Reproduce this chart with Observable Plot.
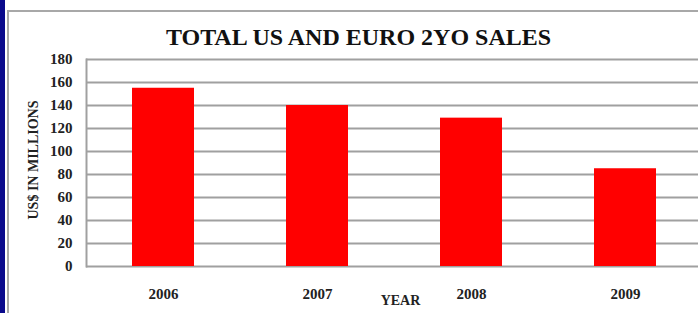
<!DOCTYPE html>
<html>
<head>
<meta charset="utf-8">
<script src="https://cdn.jsdelivr.net/npm/d3@7"></script>
<script src="https://cdn.jsdelivr.net/npm/@observablehq/plot@0.6"></script>
<style>
  html, body { margin: 0; padding: 0; background: #fff; overflow: hidden; }
  #wrap { position: relative; width: 698px; height: 313px; overflow: hidden; background: #fff; }
  #navy { position: absolute; left: 0; top: 0; width: 5px; height: 313px; background: #0a0a8c; }
  #frame { position: absolute; left: 7px; top: 10px; width: 700px; height: 320px; border-top: 2px solid #a8a8a8; border-left: 2px solid #a8a8a8; }
  #chart { position: absolute; left: 0; top: 0; }
  #chart svg { background: transparent !important; overflow: hidden; }
</style>
</head>
<body>
<div id="wrap">
  <div id="navy"></div>
  <div id="frame"></div>
  <div id="chart"></div>
</div>
<script>
const years = ["2006", "2007", "2008", "2009"];
const sales = [155, 140, 129, 85];
const yTicks = [0, 20, 40, 60, 80, 100, 120, 140, 160, 180];
const title = "TOTAL US AND EURO 2YO SALES";
const yLabel = "US$ IN MILLIONS";
const xLabel = "YEAR";

const data = years.map((y, i) => ({year: y, value: sales[i]}));
const font = "'Liberation Serif', 'Times New Roman', serif";

const chart = Plot.plot({
  width: 698,
  height: 313,
  marginTop: 59,
  marginBottom: 47,
  marginLeft: 86,
  marginRight: 0,
  style: {fontFamily: font, background: "transparent", overflow: "hidden"},
  x: {domain: years, range: [86, 702], paddingInner: 0.6, paddingOuter: 0.3, align: 0.5},
  y: {domain: [0, 180], ticks: yTicks},
  marks: [
    Plot.ruleY(yTicks, {stroke: "#a0a0a0", strokeWidth: 2, strokeOpacity: 1}),
    Plot.frame({anchor: "left", stroke: "#a0a0a0", strokeWidth: 2}),
    Plot.barY(data, {x: "year", y: "value", fill: "#ff0000"}),
    Plot.axisY({ticks: yTicks, tickSize: 0, tickPadding: 14, label: null,
      fontSize: 15, fontWeight: "bold", fill: "#222"}),
    Plot.axisX({tickSize: 0, tickPadding: 22, label: null,
      fontSize: 15, fontWeight: "bold", fill: "#222"}),
    Plot.text([title], {frameAnchor: "top", dx: -34, dy: -22, fontSize: 24, fontWeight: "bold", fill: "#111", lineAnchor: "middle"}),
    Plot.text([yLabel], {frameAnchor: "left", textAnchor: "middle", dx: -53, dy: -3, rotate: -90, fontSize: 14, fontWeight: "bold", fill: "#222"}),
    Plot.text([xLabel], {frameAnchor: "bottom", dx: 8, dy: 38, fontSize: 14, fontWeight: "bold", fill: "#222"})
  ]
});
document.getElementById("chart").appendChild(chart);
</script>
</body>
</html>
